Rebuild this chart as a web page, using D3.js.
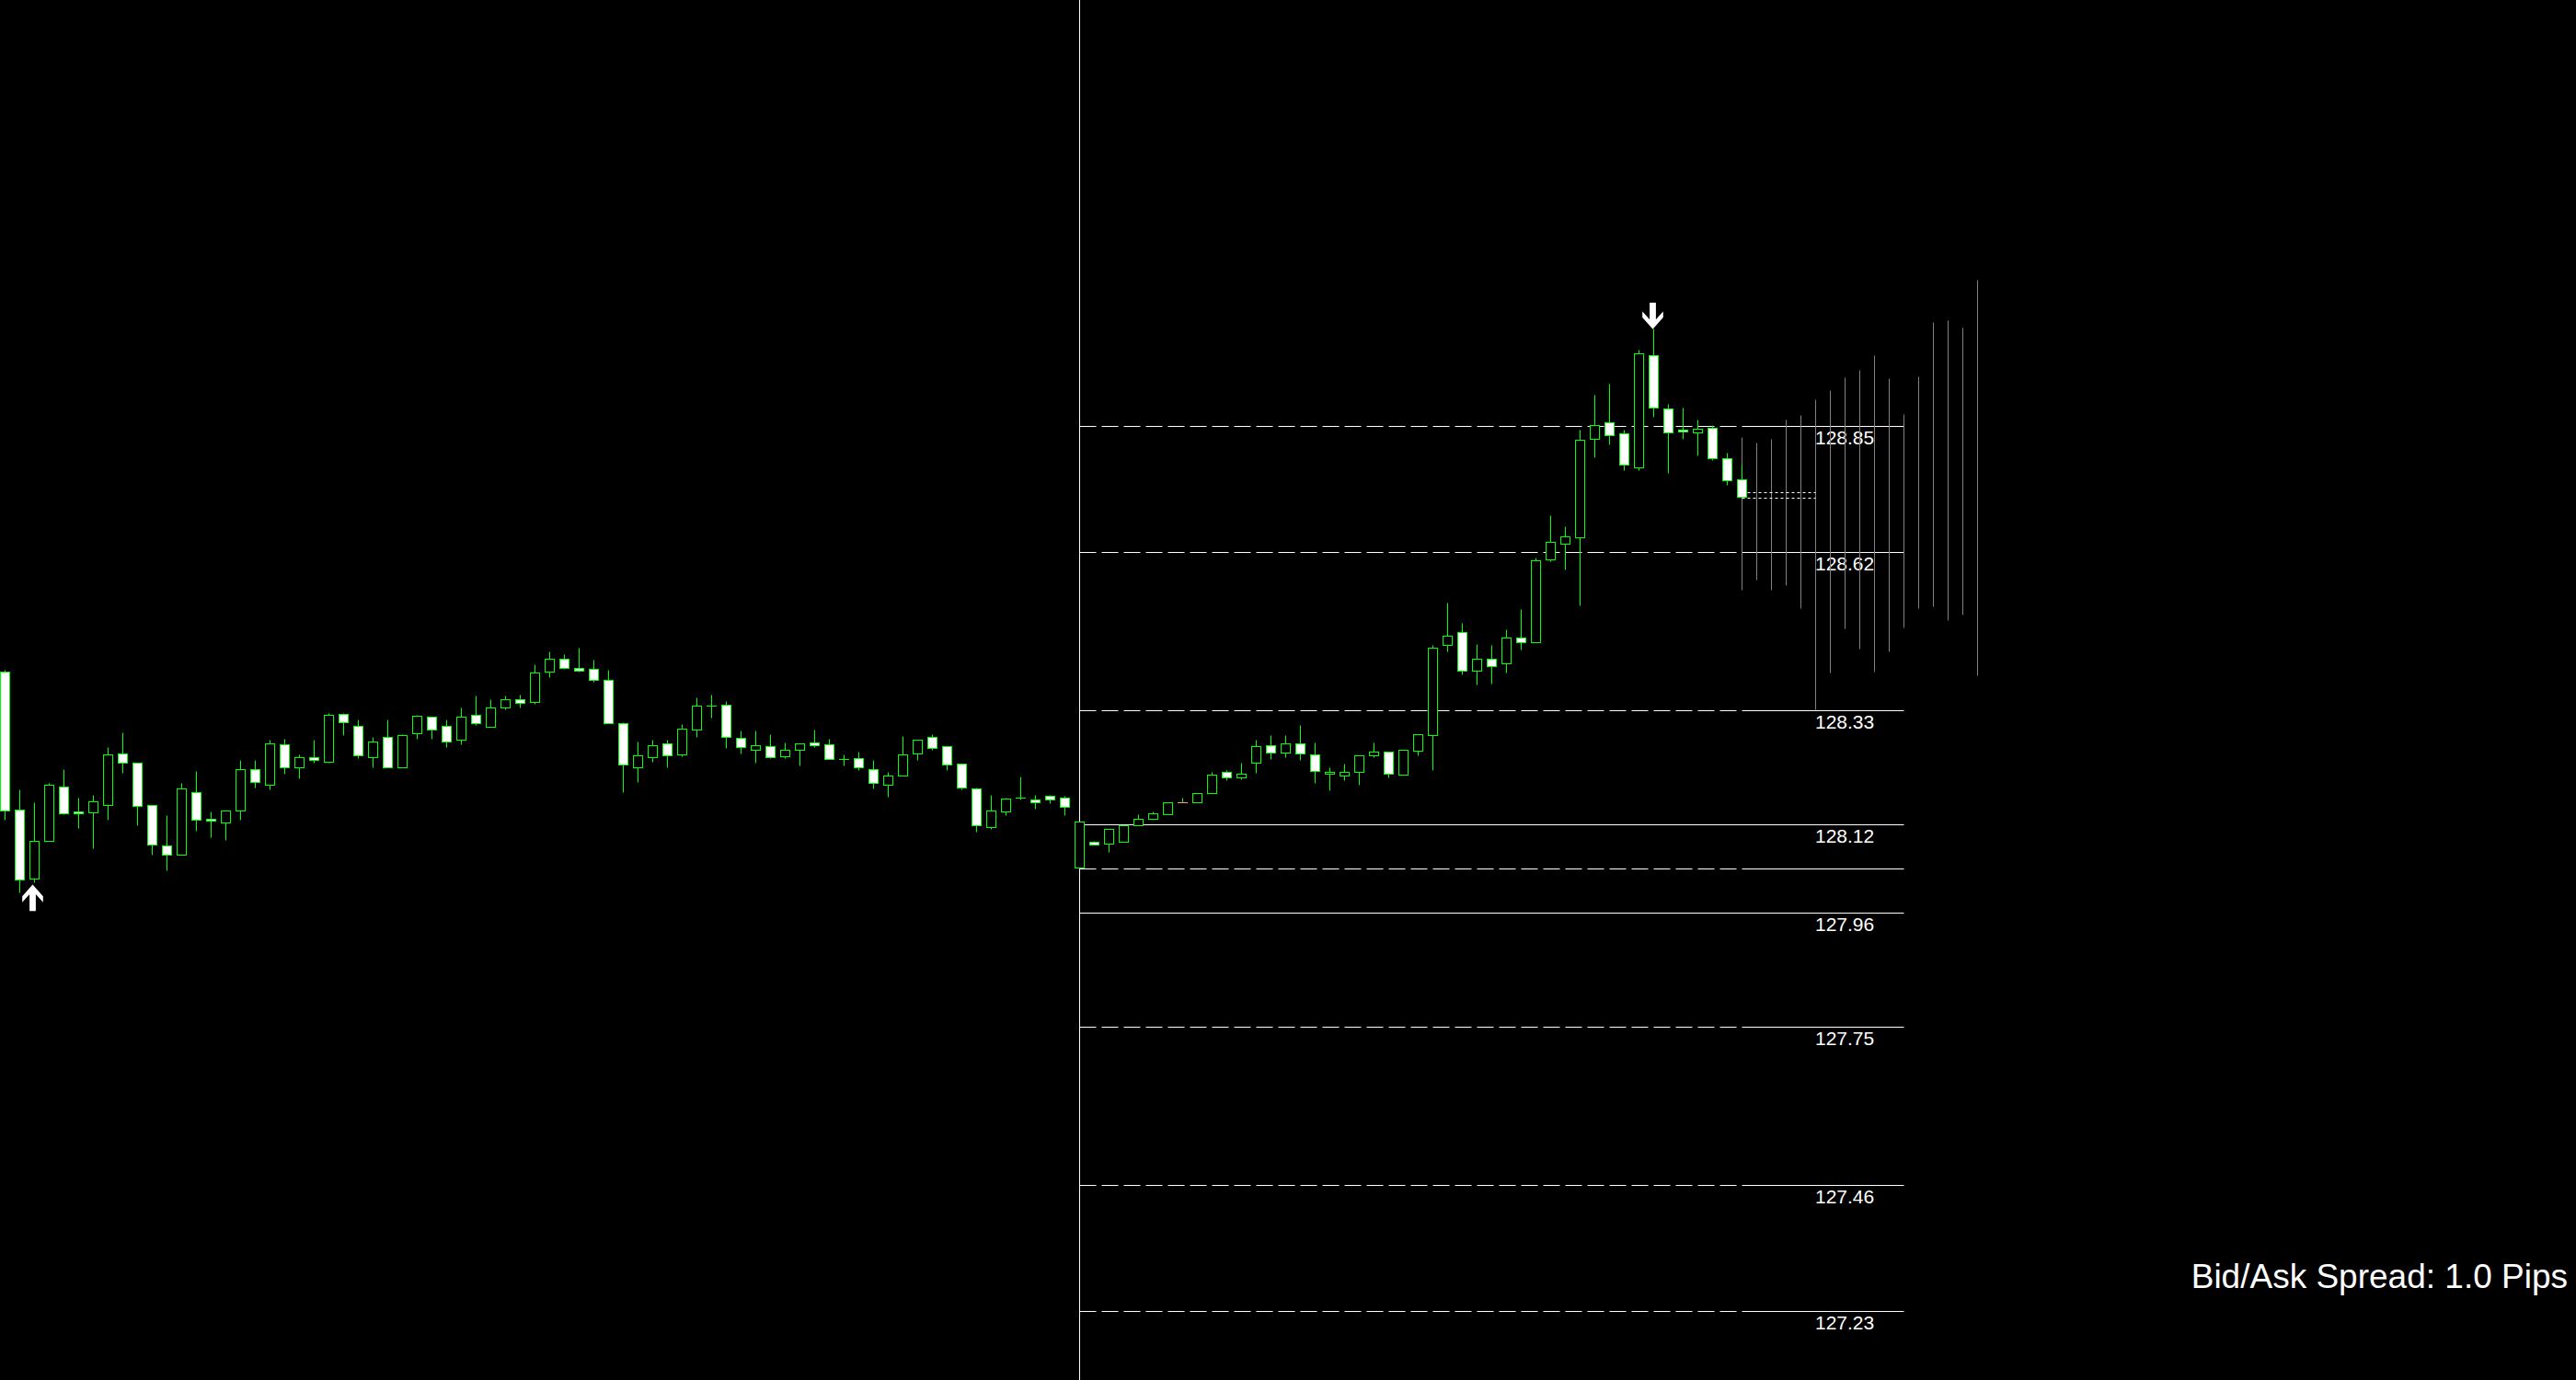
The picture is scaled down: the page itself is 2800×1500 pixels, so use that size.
<!DOCTYPE html>
<html><head><meta charset="utf-8">
<script src="https://cdn.jsdelivr.net/npm/d3@7"></script>
<style>html,body{margin:0;padding:0;background:#000;overflow:hidden}</style>
</head><body><svg id="chart" width="2800" height="1500"></svg>
<script>
// ---- data (prices) ----
const opens = [128.401,128.148,128.021,128.090,128.190,128.145,128.142,128.157,128.251,128.234,
128.156,128.082,128.066,128.180,128.131,128.125,128.146,128.222,128.193,128.267,
128.225,128.244,128.236,128.323,128.301,128.243,128.281,128.226,128.287,128.318,
128.301,128.275,128.321,128.300,128.334,128.350,128.344,128.400,128.424,128.407,
128.405,128.385,128.306,128.226,128.243,128.269,128.248,128.295,128.338,128.340,
128.279,128.258,128.264,128.245,128.258,128.271,128.267,128.241,128.242,128.222,
128.194,128.210,128.250,128.281,128.264,128.232,128.187,128.116,128.144,128.170,
128.166,128.173,128.170,128.041,128.089,128.085,128.088,128.119,128.131,128.140,
128.161,128.161,128.178,128.217,128.206,128.233,128.266,128.253,128.269,128.249,
128.213,128.210,128.216,128.247,128.254,128.212,128.255,128.284,128.450,128.473,
128.402,128.424,128.415,128.463,128.454,128.605,128.634,128.646,128.826,128.857,
128.837,128.774,128.980,128.882,128.843,128.838,128.847,128.791,128.752];
const highs = [128.403,128.184,128.162,128.197,128.222,128.170,128.174,128.263,128.290,128.234,
128.156,128.138,128.196,128.219,128.145,128.146,128.238,128.238,128.276,128.278,
128.248,128.275,128.325,128.325,128.313,128.281,128.313,128.286,128.321,128.318,
128.313,128.335,128.357,128.350,128.357,128.359,128.414,128.438,128.433,128.445,
128.423,128.403,128.308,128.273,128.275,128.275,128.305,128.354,128.359,128.347,
128.293,128.292,128.286,128.270,128.269,128.295,128.278,128.249,128.254,128.238,
128.217,128.283,128.276,128.286,128.264,128.232,128.189,128.175,128.170,128.209,
128.175,128.175,128.173,128.126,128.091,128.112,128.119,128.139,128.144,128.161,
128.170,128.178,128.217,128.221,128.234,128.276,128.285,128.285,128.302,128.271,
128.225,128.232,128.247,128.271,128.254,128.257,128.286,128.450,128.527,128.490,
128.451,128.450,128.478,128.515,128.610,128.687,128.667,128.844,128.908,128.928,
128.843,128.989,129.028,128.891,128.884,128.862,128.852,128.802,128.780];
const lows = [128.129,127.997,128.014,128.090,128.139,128.114,128.077,128.130,128.215,128.119,
128.066,128.036,128.065,128.109,128.098,128.093,128.129,128.189,128.184,128.213,
128.205,128.233,128.233,128.285,128.242,128.226,128.225,128.225,128.278,128.278,
128.262,128.268,128.302,128.300,128.332,128.334,128.342,128.391,128.405,128.400,
128.382,128.306,128.179,128.199,128.236,128.226,128.246,128.280,128.317,128.261,
128.251,128.233,128.242,128.242,128.229,128.263,128.240,128.229,128.221,128.187,
128.172,128.210,128.238,128.258,128.221,128.184,128.108,128.113,128.137,128.167,
128.150,128.160,128.138,128.041,128.083,128.070,128.088,128.119,128.131,128.140,
128.161,128.161,128.178,128.201,128.204,128.215,128.241,128.243,128.238,128.196,
128.183,128.201,128.194,128.243,128.206,128.212,128.247,128.221,128.437,128.395,
128.376,128.378,128.398,128.440,128.454,128.603,128.588,128.521,128.792,128.816,
128.770,128.770,128.866,128.764,128.826,128.796,128.787,128.742,128.720];
const closes = [128.146,128.019,128.091,128.193,128.141,128.141,128.163,128.249,128.233,128.154,
128.083,128.066,128.187,128.130,128.128,128.146,128.222,128.199,128.269,128.225,
128.244,128.238,128.321,128.307,128.247,128.272,128.226,128.284,128.320,128.294,
128.272,128.318,128.306,128.335,128.350,128.343,128.399,128.424,128.407,128.402,
128.386,128.306,128.230,128.247,128.266,128.247,128.296,128.338,128.338,128.280,
128.262,128.266,128.243,128.257,128.269,128.266,128.240,128.241,128.225,128.196,
128.210,128.249,128.276,128.260,128.230,128.188,128.119,128.146,128.168,128.170,
128.162,128.167,128.152,128.126,128.083,128.112,128.119,128.131,128.141,128.161,
128.161,128.178,128.212,128.206,128.213,128.264,128.253,128.269,128.250,128.218,
128.217,128.217,128.247,128.254,128.213,128.257,128.286,128.444,128.466,128.402,
128.424,128.410,128.463,128.454,128.604,128.638,128.648,128.825,128.852,128.834,
128.779,128.983,128.884,128.839,128.840,128.845,128.791,128.751,128.720];

// projected ranges to the right of the last bar
const projHigh = [128.829,128.820,128.827,128.861,128.871,128.898,128.915,128.940,128.953,128.980,
128.938,128.872,128.941,129.041,129.044,129.031,129.118];
const projLow  = [128.551,128.569,128.551,128.559,128.517,128.332,128.398,128.480,128.442,128.400,
128.438,128.482,128.516,128.520,128.494,128.505,128.394];

const levelPrices = [128.85,128.62,128.33,128.12,128.04,127.96,127.75,127.46,127.23];
const levelLabels = ["128.85","128.62","128.33","128.12","","127.96","127.75","127.46","127.23"];
const levelKinds  = ["fib","fib","fib","pivot","fib","pivot","fib","fib","fib"];

const fractalUpIdx = [2];
const fractalDownIdx = [112];
const sessionBreakIdx = 73;
const bidPrice = 128.718, askPrice = 128.728;
const spreadText = "Bid/Ask Spread: 1.0 Pips";

// ---- drawing ----
const W = 2800, H = 1500;
const svg = d3.select("#chart");
svg.append("rect").attr("width",W).attr("height",H).attr("fill","#000");

const n = opens.length;
const lastIdx = n - 1;
const x = d3.scaleLinear().domain([0, 134]).range([5.5, 5.5 + 16*134]);
const y = d3.scaleLinear().domain([127.23, 128.85]).range([1425.5, 463.5]);
const py = v => Math.round(y(v) - 0.5) + 0.5;

const GREEN = "#00ff00";
const FONT = "'Liberation Sans', Arial, sans-serif";

// session separator
const sx = x(sessionBreakIdx);
svg.append("line").attr("x1",sx).attr("x2",sx).attr("y1",0).attr("y2",H)
  .attr("stroke","#ffffff").attr("stroke-width",1);

// levels
const lvlEndX = x(lastIdx + 11);
const lvl = svg.append("g");
levelPrices.forEach((p,i) => {
  const yy = py(p);
  if (levelKinds[i] === "pivot") {
    lvl.append("line").attr("x1",sx).attr("x2",lvlEndX).attr("y1",yy).attr("y2",yy)
      .attr("stroke","#fff").attr("stroke-width",1);
  } else {
    lvl.append("line").attr("x1",sx).attr("x2",x(lastIdx)).attr("y1",yy).attr("y2",yy)
      .attr("stroke","#fff").attr("stroke-width",1).attr("stroke-dasharray","18,6");
    lvl.append("line").attr("x1",x(lastIdx)).attr("x2",lvlEndX).attr("y1",yy).attr("y2",yy)
      .attr("stroke","#fff").attr("stroke-width",1);
  }
  if (levelLabels[i]) {
    lvl.append("text").attr("x", x(lastIdx + 5) - 0.5).attr("y", yy + 19)
      .attr("fill","#fff").attr("font-family",FONT).attr("font-size",21)
      .text(levelLabels[i]);
  }
});

// projection ranges
svg.append("g").selectAll("line").data(projHigh).join("line")
  .attr("x1",(d,j)=>x(lastIdx+j)).attr("x2",(d,j)=>x(lastIdx+j))
  .attr("y1",d=>py(d)).attr("y2",(d,j)=>py(projLow[j]))
  .attr("stroke","#808080").attr("stroke-width",1);

// bid / ask dotted lines
[bidPrice, askPrice].forEach(p => {
  svg.append("line").attr("x1",x(lastIdx)).attr("x2",x(lastIdx+5))
    .attr("y1",py(p)).attr("y2",py(p))
    .attr("stroke","#fff").attr("stroke-width",1).attr("stroke-dasharray","3,3");
});

// candles
const idx = d3.range(n);
const cg = svg.append("g");
cg.selectAll("line.wick").data(idx).join("line").attr("class","wick")
  .attr("x1",i=>x(i)).attr("x2",i=>x(i))
  .attr("y1",i=>py(highs[i])).attr("y2",i=>py(lows[i]))
  .attr("stroke",GREEN).attr("stroke-width",1);

idx.forEach(i => {
  const o = opens[i], c = closes[i];
  const t = Math.round(y(Math.max(o,c)) - 0.5), b = Math.round(y(Math.min(o,c)) - 0.5);
  if (b - t < 1) {
    const doji = (lows[i] === c) ? "#f4a460" : GREEN;
    cg.append("line").attr("x1",x(i)-5.5).attr("x2",x(i)+5.5)
      .attr("y1",t+0.5).attr("y2",t+0.5).attr("stroke",doji).attr("stroke-width",1);
  } else {
    cg.append("rect").attr("x",x(i)-5).attr("y",t+0.5).attr("width",10).attr("height",b-t)
      .attr("fill", c < o ? "#ffffff" : "#000000")
      .attr("stroke",GREEN).attr("stroke-width",1);
  }
});

// fractal arrows
function arrowPath(cx, tipY, dir) {
  // dir = -1: points up (tip at top), 1: points down (tip at bottom)
  const s = -dir;
  const pts = [[0,0],[11.3,12.7],[11.3,19.3],[3.4,10.6],[3.4,28.7],[-3.4,28.7],[-3.4,10.6],[-11.3,19.3],[-11.3,12.7]];
  return "M" + pts.map(p => (cx + p[0]) + "," + (tipY + s*p[1])).join("L") + "Z";
}
fractalUpIdx.forEach(i => {
  svg.append("path").attr("d", arrowPath(x(i) - 2, y(lows[i]) + 1.5, -1)).attr("fill","#fff");
});
fractalDownIdx.forEach(i => {
  svg.append("path").attr("d", arrowPath(x(i) - 1, y(highs[i]), 1)).attr("fill","#fff");
});

// spread text
svg.append("text").attr("x",2791).attr("y",1400).attr("text-anchor","end")
  .attr("fill","#fff").attr("font-family",FONT).attr("font-size",37).text(spreadText);
</script>
</body></html>
